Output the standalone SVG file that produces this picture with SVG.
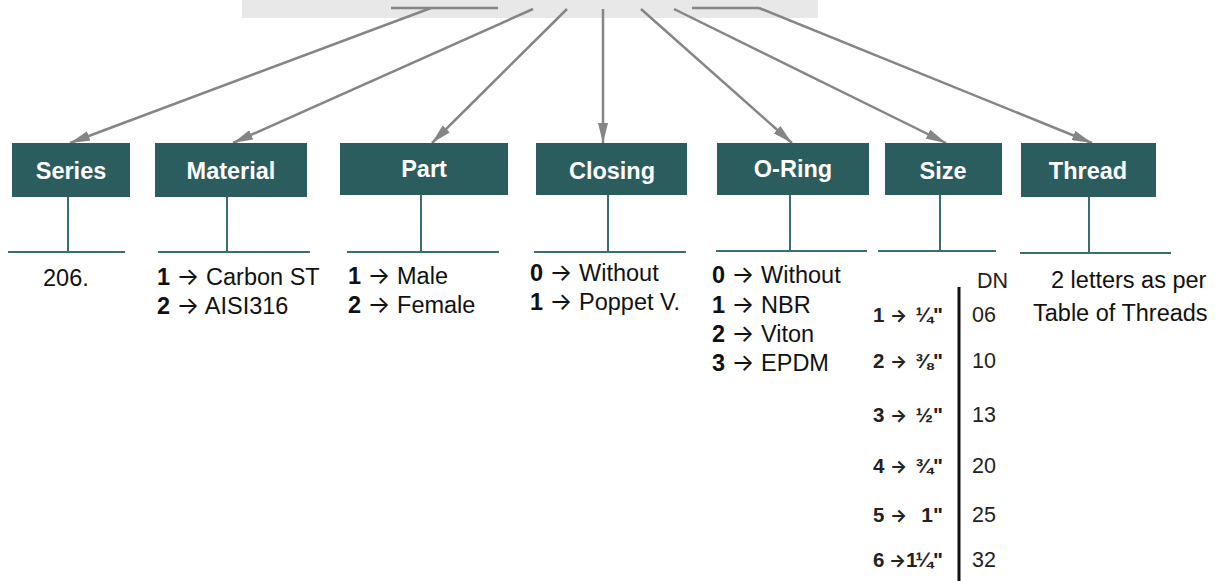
<svg xmlns="http://www.w3.org/2000/svg" width="1226" height="581" viewBox="0 0 1226 581">
<style>
.box{fill:#2b5d5f}
.lbl{font-family:"Liberation Sans",Arial,sans-serif;font-size:23.5px;font-weight:bold;fill:#ffffff;text-anchor:middle}
.stem{stroke:#3a6e70;stroke-width:2;fill:none}
.txt{font-family:"Liberation Sans",Arial,sans-serif;font-size:23.5px;fill:#111111}
.b{font-weight:bold}
.ar{font-family:Inter,"DejaVu Sans",sans-serif;font-size:24px}
.sar{font-family:Inter,"DejaVu Sans",sans-serif;font-size:18px;font-weight:bold}
.sz{font-family:"Liberation Sans",Arial,sans-serif;font-size:20.5px;font-weight:bold;fill:#222222}
.szr{font-family:"Liberation Sans",Arial,sans-serif;font-size:21px;font-weight:bold;fill:#222222;text-anchor:end}
.dn{font-family:"Liberation Sans",Arial,sans-serif;font-size:21.5px;fill:#222222}
.con{stroke:#858585;stroke-width:2.5;fill:none}
</style>
<defs>
<marker id="ah" viewBox="0 0 20 10" refX="20" refY="5" markerWidth="20" markerHeight="10" markerUnits="userSpaceOnUse" orient="auto">
<path d="M0,0 L20,5 L0,10 z" fill="#858585"/>
</marker>
</defs>
<rect x="242" y="0" width="576" height="18" fill="#e8e8e8"/>
<g id="connectors">
<line class="con" x1="391" y1="8" x2="498" y2="8"/>
<line class="con" x1="692" y1="8" x2="759" y2="8"/>
<line class="con" x1="431" y1="8" x2="70" y2="143" marker-end="url(#ah)"/>
<line class="con" x1="533" y1="9" x2="233" y2="143" marker-end="url(#ah)"/>
<line class="con" x1="567" y1="9" x2="432" y2="143" marker-end="url(#ah)"/>
<line class="con" x1="603" y1="9" x2="603" y2="143" marker-end="url(#ah)"/>
<line class="con" x1="641" y1="9" x2="792" y2="143" marker-end="url(#ah)"/>
<line class="con" x1="674" y1="9" x2="946" y2="143" marker-end="url(#ah)"/>
<line class="con" x1="759" y1="8" x2="1092" y2="143" marker-end="url(#ah)"/>
</g>
<g id="series">
<rect class="box" x="12" y="143" width="118" height="54"/>
<text class="lbl" x="71" y="179">Series</text>
<line class="stem" x1="68" y1="197" x2="68" y2="252"/>
<line class="stem" x1="8" y1="252" x2="125" y2="252"/>
<text class="txt" x="43" y="286">206.</text>
</g>
<g id="material">
<rect class="box" x="155" y="143" width="152" height="54"/>
<text class="lbl" x="231" y="179">Material</text>
<line class="stem" x1="227" y1="197" x2="227" y2="252"/>
<line class="stem" x1="158" y1="252" x2="310" y2="252"/>
<text class="txt" x="157" y="285"><tspan class="b">1</tspan> <tspan class="ar">→</tspan> Carbon ST</text>
<text class="txt" x="157" y="314"><tspan class="b">2</tspan> <tspan class="ar">→</tspan> AISI316</text>
</g>
<g id="part">
<rect class="box" x="340" y="143" width="168" height="52"/>
<text class="lbl" x="424" y="177">Part</text>
<line class="stem" x1="421" y1="195" x2="421" y2="252"/>
<line class="stem" x1="347" y1="252" x2="499" y2="252"/>
<text class="txt" x="348" y="284"><tspan class="b">1</tspan> <tspan class="ar">→</tspan> Male</text>
<text class="txt" x="348" y="313"><tspan class="b">2</tspan> <tspan class="ar">→</tspan> Female</text>
</g>
<g id="closing">
<rect class="box" x="536" y="143" width="151" height="52"/>
<text class="lbl" x="612" y="179">Closing</text>
<line class="stem" x1="608" y1="195" x2="608" y2="252"/>
<line class="stem" x1="534" y1="252" x2="686" y2="252"/>
<text class="txt" x="530" y="281"><tspan class="b">0</tspan> <tspan class="ar">→</tspan> Without</text>
<text class="txt" x="530" y="310"><tspan class="b">1</tspan> <tspan class="ar">→</tspan> Poppet V.</text>
</g>
<g id="oring">
<rect class="box" x="717" y="143" width="152" height="52"/>
<text class="lbl" x="793" y="177">O-Ring</text>
<line class="stem" x1="790" y1="195" x2="790" y2="251"/>
<line class="stem" x1="716" y1="251" x2="867" y2="251"/>
<text class="txt" x="712" y="283"><tspan class="b">0</tspan> <tspan class="ar">→</tspan> Without</text>
<text class="txt" x="712" y="313"><tspan class="b">1</tspan> <tspan class="ar">→</tspan> NBR</text>
<text class="txt" x="712" y="342"><tspan class="b">2</tspan> <tspan class="ar">→</tspan> Viton</text>
<text class="txt" x="712" y="371"><tspan class="b">3</tspan> <tspan class="ar">→</tspan> EPDM</text>
</g>
<g id="size">
<rect class="box" x="885" y="143" width="117" height="52"/>
<text class="lbl" x="943" y="179">Size</text>
<line class="stem" x1="940" y1="195" x2="940" y2="251"/>
<line class="stem" x1="878" y1="251" x2="996" y2="251"/>
<line x1="959" y1="287" x2="959" y2="581" stroke="#111111" stroke-width="3"/>
<text class="dn" x="977" y="288">DN</text>
<text class="sz" x="873" y="322">1<tspan class="sar" x="890">→</tspan></text><text class="szr" x="943" y="322">¼"</text><text class="dn" x="972" y="322">06</text>
<text class="sz" x="873" y="368">2<tspan class="sar" x="890">→</tspan></text><text class="szr" x="943" y="368">⅜"</text><text class="dn" x="972" y="368">10</text>
<text class="sz" x="873" y="422">3<tspan class="sar" x="890">→</tspan></text><text class="szr" x="943" y="422">½"</text><text class="dn" x="972" y="422">13</text>
<text class="sz" x="873" y="473">4<tspan class="sar" x="890">→</tspan></text><text class="szr" x="943" y="473">¾"</text><text class="dn" x="972" y="473">20</text>
<text class="sz" x="873" y="522">5<tspan class="sar" x="890">→</tspan></text><text class="szr" x="943" y="522">1"</text><text class="dn" x="972" y="522">25</text>
<text class="sz" x="873" y="567">6<tspan class="sar" x="889">→</tspan></text><text class="sz" x="906" y="567">1</text><text class="szr" x="943" y="567" font-size="19">¼"</text><text class="dn" x="972" y="567">32</text>
</g>
<g id="thread">
<rect class="box" x="1021" y="143" width="135" height="54"/>
<text class="lbl" x="1088" y="179">Thread</text>
<line class="stem" x1="1089" y1="197" x2="1089" y2="253"/>
<line class="stem" x1="1020" y1="253" x2="1171" y2="253"/>
<text class="txt" x="1051" y="288">2 letters as per</text>
<text class="txt" x="1033" y="321">Table of Threads</text>
</g>
</svg>
